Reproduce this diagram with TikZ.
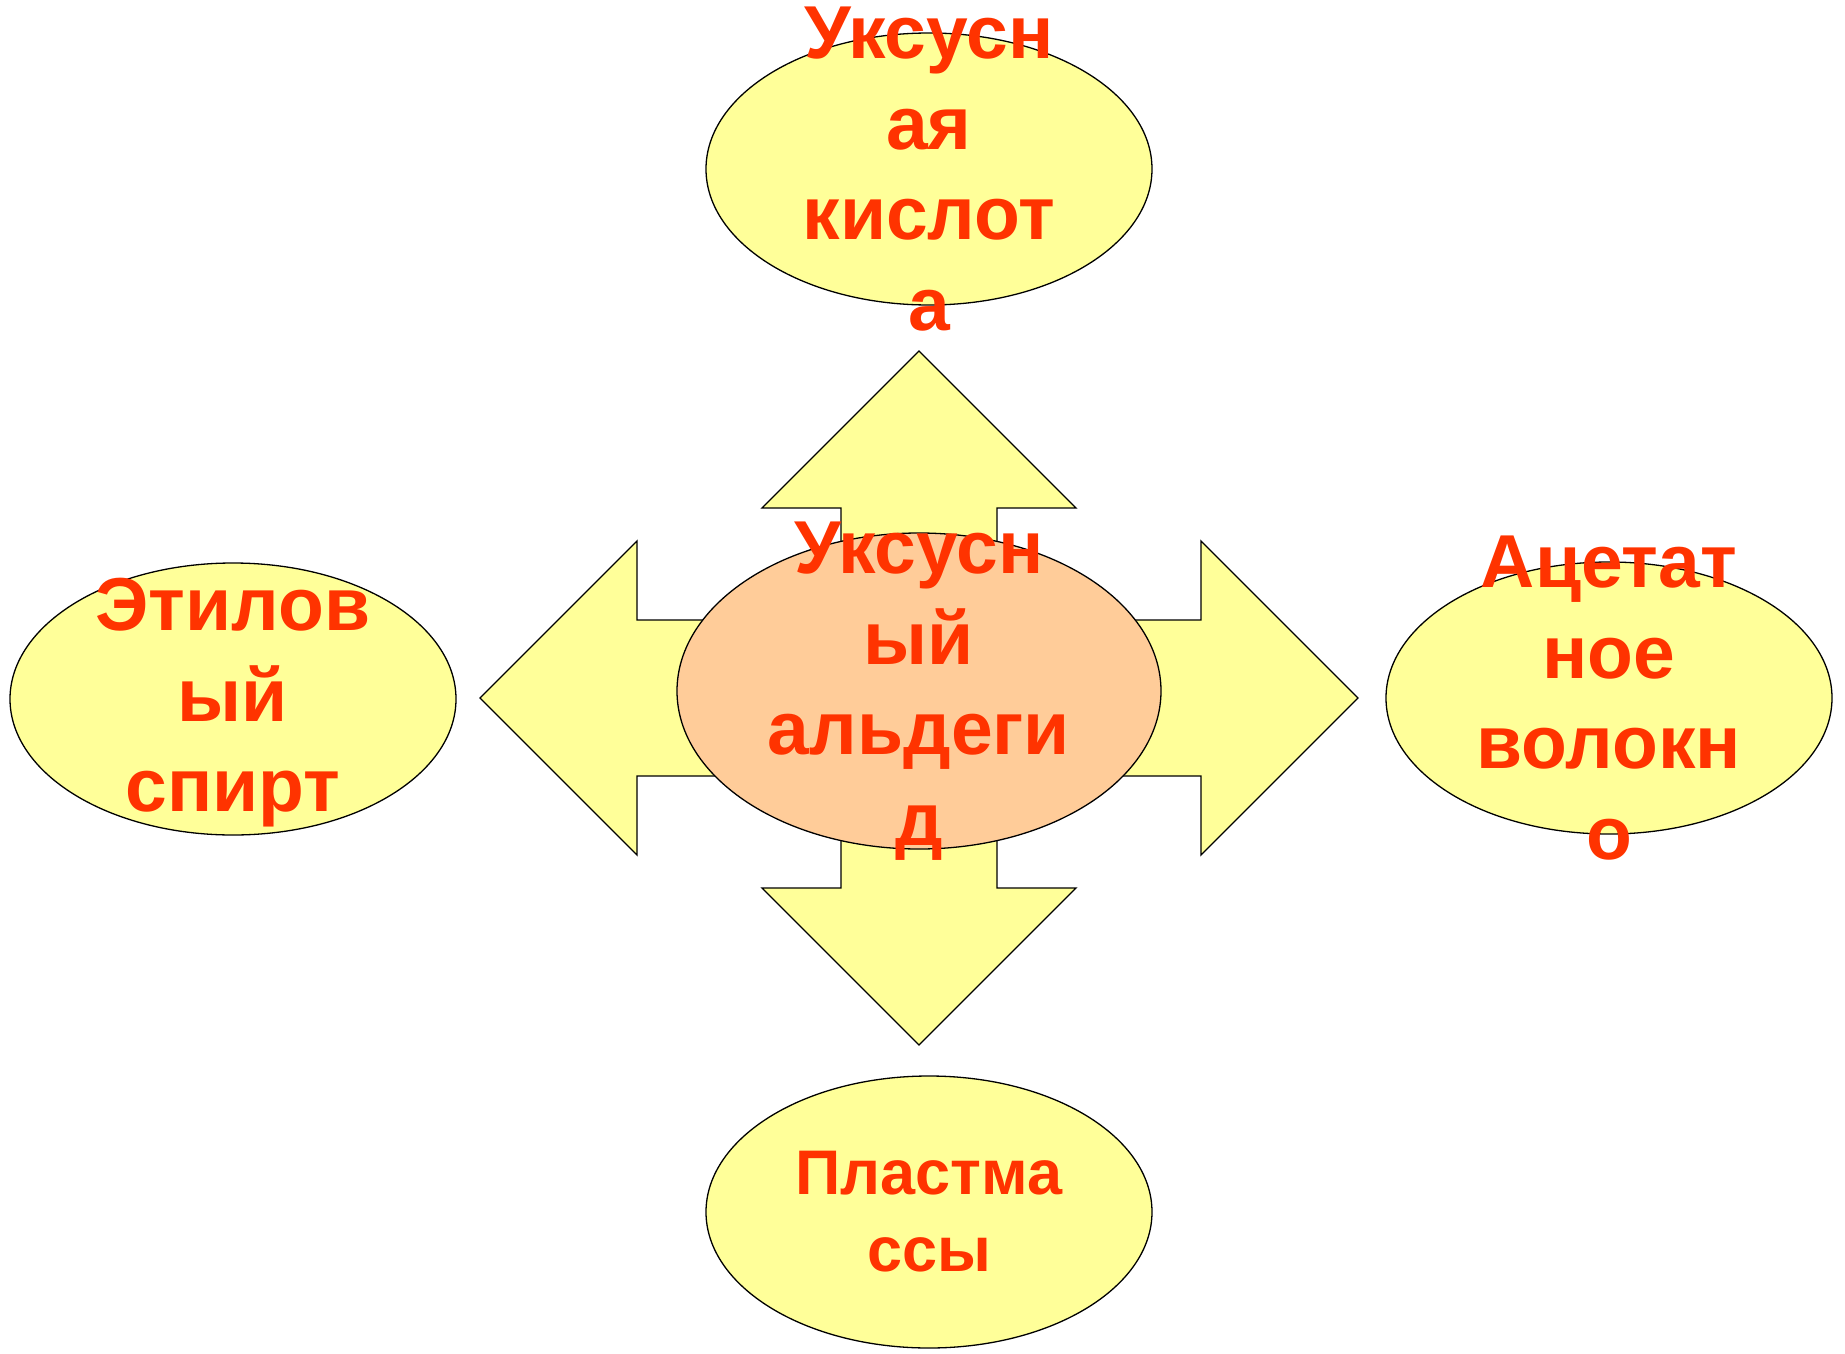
\documentclass[tikz,border=0pt]{standalone}
\usepackage{fontspec}
\setmainfont{Liberation Sans}
\usepackage{tikz}
\usetikzlibrary{shapes.geometric}
\definecolor{lightyellow}{HTML}{FFFF99}
\definecolor{peach}{HTML}{FFCC99}
\definecolor{redorange}{HTML}{FF3300}

\begin{document}
\begin{tikzpicture}[x=1pt, y=-1pt, line width=1.3pt,
  bubble/.style={ellipse, draw=black, fill=lightyellow, minimum width=446pt, minimum height=272pt, inner sep=0pt},
  caption/.style={text=redorange, font=\bfseries\fontsize{75}{90.5}\selectfont, align=center, inner sep=0pt},
  arrowbody/.style={draw=black, fill=lightyellow, line join=miter}]
  \useasboundingbox (0,0) rectangle (1845,1354);

  % cross arrow behind the middle
  \coordinate (hub) at (919,698);
  \draw[arrowbody, shift={(hub)}]
    (0,-347) -- (157,-190) -- (78,-190) -- (78,-78) -- (282,-78) -- (282,-157)
    -- (439,0) -- (282,157) -- (282,78) -- (78,78) -- (78,190) -- (157,190)
    -- (0,347) -- (-157,190) -- (-78,190) -- (-78,78) -- (-282,78) -- (-282,157)
    -- (-439,0) -- (-282,-157) -- (-282,-78) -- (-78,-78) -- (-78,-190) -- (-157,-190)
    -- cycle;

  \node[bubble] (acid) at (929,169) {};
  \node[bubble] (ethanol) at (233,699) {};
  \node[bubble] (fibre) at (1609,698) {};
  \node[bubble] (plastics) at (929,1212) {};
  \node[bubble, fill=peach, minimum width=484pt, minimum height=316pt] (aldehyde) at (919,691) {};

  \node[caption] (acid text) at (acid) {Уксусн\\ая\\кислот\\а};
  \node[caption] (ethanol text) at ([yshift=-4pt]ethanol) {Этилов\\ый\\спирт};
  \node[caption] (fibre text) at (fibre) {Ацетат\\ное\\волокн\\о};
  \node[caption, font=\bfseries\fontsize{63}{77}\selectfont] (plastics text) at (plastics) {Пластма\\ссы};
  \node[caption] (aldehyde text) at (aldehyde) {Уксусн\\ый\\альдеги\\д};
\end{tikzpicture}
\end{document}
